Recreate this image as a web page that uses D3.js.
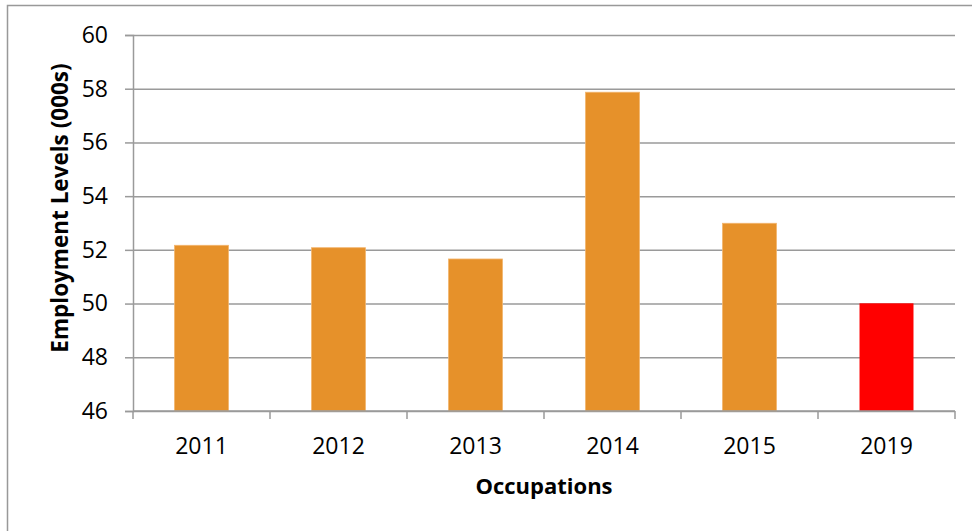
<!DOCTYPE html>
<html>
<head>
<meta charset="utf-8">
<script src="https://cdn.jsdelivr.net/npm/d3@7"></script>
<style>
  body { margin: 0; background: #fff; }
  svg { display: block; font-family: "Open Sans", "Liberation Sans", sans-serif; }
</style>
</head>
<body>
<div id="chart"></div>
<script>
// Chart data
const years = ["2011", "2012", "2013", "2014", "2015", "2019"];
const employment = [52.17, 52.08, 51.66, 57.87, 52.99, 50.01];
const barColors = ["#E6912A", "#E6912A", "#E6912A", "#E6912A", "#E6912A", "#FF0000"];
const yTicks = [46, 48, 50, 52, 54, 56, 58, 60];

const W = 972, H = 531;
const margin = { top: 35, right: 17, bottom: 120, left: 133 };
const width = W - margin.left - margin.right;
const height = H - margin.top - margin.bottom;

const svg = d3.select("#chart")
  .append("svg")
    .attr("width", W)
    .attr("height", H);

// Outer chart border
svg.append("rect")
  .attr("x", 7.5).attr("y", 5.5)
  .attr("width", W).attr("height", H)
  .attr("fill", "none")
  .attr("stroke", "#999")
  .attr("stroke-width", 1.5);

const g = svg.append("g")
  .attr("transform", `translate(${margin.left},${margin.top})`);

const xScale = d3.scaleBand()
  .domain(years)
  .range([0, width])
  .paddingInner(0.606)
  .paddingOuter(0.303);

const yScale = d3.scaleLinear()
  .domain([46, 60])
  .range([height, 0]);

// Gridlines with left ticks
g.append("g")
  .call(d3.axisLeft(yScale).tickValues(yTicks).tickSize(-width).tickSizeOuter(0).tickFormat(""))
  .call(s => s.select(".domain").remove())
  .call(s => s.selectAll("line").attr("stroke", "#9a9a9a").attr("stroke-width", 1.5));

g.append("g")
  .call(d3.axisLeft(yScale).tickValues(yTicks).tickSize(8).tickPadding(17))
  .call(s => s.select(".domain").attr("stroke", "#9a9a9a").attr("stroke-width", 1.5))
  .call(s => s.selectAll("line").attr("stroke", "#9a9a9a").attr("stroke-width", 1.5))
  .call(s => s.selectAll("text").attr("font-size", 23).attr("fill", "#000")
    .attr("font-family", "'Open Sans', sans-serif"));

// Bars
g.selectAll(".bar")
  .data(years)
  .enter()
  .append("rect")
    .attr("class", "bar")
    .attr("x", d => xScale(d))
    .attr("y", (d, i) => yScale(employment[i]))
    .attr("width", xScale.bandwidth())
    .attr("height", (d, i) => height - yScale(employment[i]))
    .attr("fill", (d, i) => barColors[i])
    .attr("stroke", (d, i) => i === 5 ? "none" : "#F2B56E")
    .attr("stroke-width", 0.8);

// X axis with boundary ticks between categories
const step = width / years.length;
const xAxis = g.append("g").attr("transform", `translate(0,${height})`);
xAxis.append("line")
  .attr("x1", 0).attr("x2", width)
  .attr("stroke", "#9a9a9a").attr("stroke-width", 1.5);
xAxis.selectAll(".bt")
  .data(d3.range(years.length + 1))
  .enter()
  .append("line")
    .attr("x1", d => d * step).attr("x2", d => d * step)
    .attr("y1", 0).attr("y2", 8)
    .attr("stroke", "#9a9a9a").attr("stroke-width", 1.5);
xAxis.selectAll(".lbl")
  .data(years)
  .enter()
  .append("text")
    .attr("x", d => xScale(d) + xScale.bandwidth() / 2)
    .attr("y", 43)
    .attr("text-anchor", "middle")
    .attr("font-size", 23)
    .text(d => d);

// Axis titles
svg.append("text")
  .attr("x", 544)
  .attr("y", 494)
  .attr("text-anchor", "middle")
  .attr("font-size", 22)
  .attr("font-weight", "bold")
  .text("Occupations");

svg.append("text")
  .attr("transform", "translate(68,208) rotate(-90)")
  .attr("text-anchor", "middle")
  .attr("font-size", 22.5)
  .attr("font-weight", "bold")
  .text("Employment Levels (000s)");
</script>
</body>
</html>
